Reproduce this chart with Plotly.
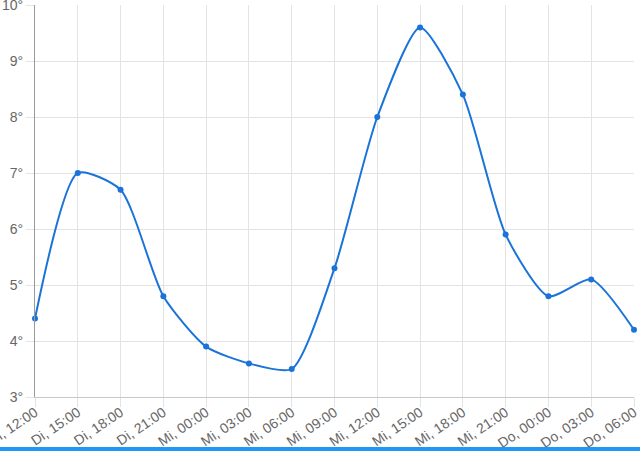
import plotly.graph_objects as go

labels = ["Di, 12:00", "Di, 15:00", "Di, 18:00", "Di, 21:00", "Mi, 00:00", "Mi, 03:00",
          "Mi, 06:00", "Mi, 09:00", "Mi, 12:00", "Mi, 15:00", "Mi, 18:00", "Mi, 21:00",
          "Do, 00:00", "Do, 03:00", "Do, 06:00"]
temps = [4.4, 7.0, 6.7, 4.8, 3.9, 3.6, 3.5, 5.3, 8.0, 9.6, 8.4, 5.9, 4.8, 5.1, 4.2]
y_ticks = [3, 4, 5, 6, 7, 8, 9, 10]

idx = list(range(len(labels)))
line_color = "#1a73d9"
grid = "#e3e3e3"

fig = go.Figure()
fig.add_trace(go.Scatter(
    x=idx, y=temps, mode="lines+markers",
    line=dict(color=line_color, width=2, shape="spline", smoothing=0.65),
    marker=dict(color=line_color, size=6),
    cliponaxis=False, showlegend=False, hoverinfo="skip",
))

fig.update_layout(
    width=640, height=451,
    margin=dict(l=35, r=6, t=5, b=54, autoexpand=False),
    paper_bgcolor="white", plot_bgcolor="white",
    font=dict(family="Liberation Sans, Arial, sans-serif", size=14, color="#666666"),
    xaxis=dict(
        range=[0, len(labels) - 1], tickmode="array", tickvals=idx, ticktext=labels,
        tickangle=-34, showgrid=True, gridcolor=grid, gridwidth=1,
        ticks="outside", ticklen=9, tickcolor=grid, automargin=False,
        ticklabeloverflow="allow", ticklabelstandoff=-8,
        showline=True, linecolor="#c8c8c8", linewidth=1, zeroline=False,
    ),
    yaxis=dict(
        range=[3, 10], tickmode="array", tickvals=y_ticks,
        ticktext=[f"{v}°" for v in y_ticks], automargin=False,
        ticklabeloverflow="allow",
        showgrid=True, gridcolor=grid, gridwidth=1,
        ticks="outside", ticklen=8, tickcolor=grid,
        showline=True, linecolor="#9a9a9a", linewidth=1, zeroline=False,
    ),
    shapes=[dict(
        type="rect", xref="paper", yref="paper",
        x0=-35 / 599, x1=606 / 599, y0=-54 / 392, y1=-50 / 392,
        fillcolor="#2196f3", line=dict(width=0), layer="above",
    )],
)

fig.write_html("out.html", config={"displayModeBar": False, "staticPlot": True},
               post_script="document.body.style.margin='0';document.body.style.overflow='hidden';")
